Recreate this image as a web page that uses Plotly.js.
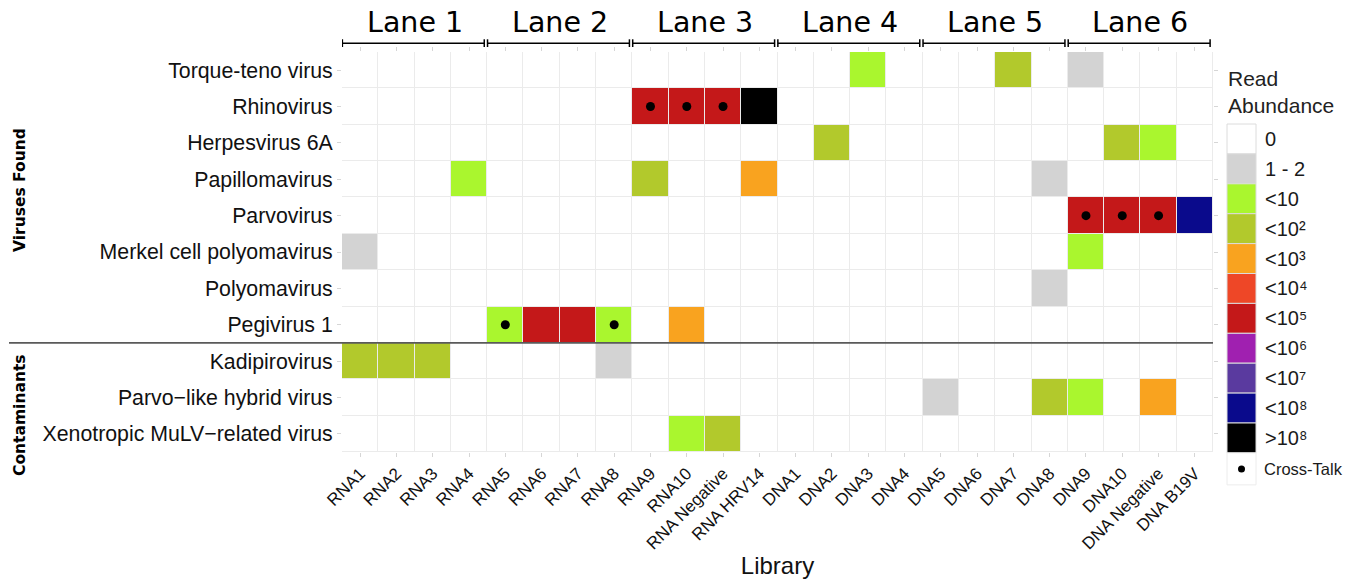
<!DOCTYPE html>
<html>
<head>
<meta charset="utf-8">
<script src="https://cdn.plot.ly/plotly-3.0.1.min.js"></script>
<style>html,body{margin:0;padding:0;background:#fff;}#chart{width:1363px;height:587px;}</style>
</head>
<body>
<div id="chart"></div>
<script>
// ---------- DATA ----------
const libraries = ['RNA1','RNA2','RNA3','RNA4','RNA5','RNA6','RNA7','RNA8','RNA9','RNA10','RNA Negative','RNA HRV14',
                   'DNA1','DNA2','DNA3','DNA4','DNA5','DNA6','DNA7','DNA8','DNA9','DNA10','DNA Negative','DNA B19V'];
const viruses = ['Torque-teno virus','Rhinovirus','Herpesvirus 6A','Papillomavirus','Parvovirus',
                 'Merkel cell polyomavirus','Polyomavirus','Pegivirus 1',
                 'Kadipirovirus','Parvo\u2212like hybrid virus','Xenotropic MuLV\u2212related virus'];
const lanes = ['Lane 1','Lane 2','Lane 3','Lane 4','Lane 5','Lane 6'];
const abundanceLabels = ['0','1 - 2','<10','<10\u00b2','<10\u00b3','<10\u2074','<10\u2075','<10\u2076','<10\u2077','<10\u2078','>10\u2078'];
const abundanceColors = ['#ffffff','#d3d3d3','#aaf62e','#b2c92c','#f9a31f','#ee4727','#c41819','#a020b0','#5a3a9f','#0a0a8c','#000000'];

// abundance category index per virus (rows) x library (columns)
const torqueTeno   = [0,0,0,0,0,0,0,0,0,0,0,0, 0,0,2,0,0,0,3,0,1,0,0,0];
const rhinovirus   = [0,0,0,0,0,0,0,0,6,6,6,10, 0,0,0,0,0,0,0,0,0,0,0,0];
const herpesvirus  = [0,0,0,0,0,0,0,0,0,0,0,0, 0,3,0,0,0,0,0,0,0,3,2,0];
const papilloma    = [0,0,0,2,0,0,0,0,3,0,0,4, 0,0,0,0,0,0,0,1,0,0,0,0];
const parvovirus   = [0,0,0,0,0,0,0,0,0,0,0,0, 0,0,0,0,0,0,0,0,6,6,6,9];
const merkel       = [1,0,0,0,0,0,0,0,0,0,0,0, 0,0,0,0,0,0,0,0,2,0,0,0];
const polyomavirus = [0,0,0,0,0,0,0,0,0,0,0,0, 0,0,0,0,0,0,0,1,0,0,0,0];
const pegivirus    = [0,0,0,0,2,6,6,2,0,4,0,0, 0,0,0,0,0,0,0,0,0,0,0,0];
const kadipiro     = [3,3,3,0,0,0,0,1,0,0,0,0, 0,0,0,0,0,0,0,0,0,0,0,0];
const parvoLike    = [0,0,0,0,0,0,0,0,0,0,0,0, 0,0,0,0,1,0,0,3,2,0,4,0];
const xenotropic   = [0,0,0,0,0,0,0,0,0,2,3,0, 0,0,0,0,0,0,0,0,0,0,0,0];

const crossTalkLib   = ['RNA9','RNA10','RNA Negative','DNA9','DNA10','DNA Negative','RNA5','RNA8'];
const crossTalkVirus = ['Rhinovirus','Rhinovirus','Rhinovirus','Parvovirus','Parvovirus','Parvovirus','Pegivirus 1','Pegivirus 1'];

const groupLabels = ['Viruses Found','Contaminants'];

// ---------- LAYOUT HELPERS ----------
const M = {l:342, r:150, t:52, b:135};
const W = 1363 - M.l - M.r, H = 587 - M.t - M.b;
const px = x => (x - M.l) / W;
const py = y => (M.t + H - y) / H;

const zMatrix = [torqueTeno, rhinovirus, herpesvirus, papilloma, parvovirus, merkel, polyomavirus, pegivirus, kadipiro, parvoLike, xenotropic];

const n = abundanceColors.length;
const colorscale = [];
abundanceColors.forEach((c, i) => { colorscale.push([i / n, c]); colorscale.push([(i + 1) / n, c]); });

const heat = {
  type: 'heatmap', x: libraries, y: viruses, z: zMatrix,
  zmin: -0.5, zmax: n - 0.5, colorscale: colorscale, showscale: false,
  xgap: 1, ygap: 1, hoverinfo: 'x+y+z'
};
const dots = {
  type: 'scatter', mode: 'markers', x: crossTalkLib, y: crossTalkVirus,
  marker: {color: '#000', size: 9}, showlegend: false, hoverinfo: 'skip'
};

const shapes = [];
const annotations = [];
const font = 'Liberation Sans, Arial, sans-serif';

// separator between groups
shapes.push({type: 'line', xref: 'paper', yref: 'y', x0: px(9), x1: 1, y0: 7.5, y1: 7.5, line: {color: '#5a5a5a', width: 1.6}});

// lane brackets
lanes.forEach((lab, k) => {
  const a = 4 * k - 0.49, b = 4 * k + 3.42;
  const yb = py(43.3), yt = py(39.3), yl = py(47);
  shapes.push({type: 'line', xref: 'x', yref: 'paper', x0: a, x1: b, y0: yb, y1: yb, line: {color: '#000', width: 1.5}});
  shapes.push({type: 'line', xref: 'x', yref: 'paper', x0: a, x1: a, y0: yt, y1: yl, line: {color: '#000', width: 1.5}});
  shapes.push({type: 'line', xref: 'x', yref: 'paper', x0: b, x1: b, y0: yt, y1: yl, line: {color: '#000', width: 1.5}});
  annotations.push({text: lab, xref: 'x', yref: 'paper', x: 4 * k + 1.5, y: py(22), xanchor: 'center', yanchor: 'middle',
    showarrow: false, font: {family: 'DejaVu Sans, sans-serif', size: 28.5, color: '#000'}});
});

// group labels
annotations.push({text: '<b>' + groupLabels[0] + '</b>', xref: 'paper', yref: 'paper', x: px(20), y: py(190), textangle: -90,
  xanchor: 'center', yanchor: 'middle', showarrow: false, font: {family: 'DejaVu Sans, sans-serif', size: 15.5, color: '#000'}});
annotations.push({text: '<b>' + groupLabels[1] + '</b>', xref: 'paper', yref: 'paper', x: px(20), y: py(415), textangle: -90,
  xanchor: 'center', yanchor: 'middle', showarrow: false, font: {family: 'DejaVu Sans, sans-serif', size: 15.5, color: '#000'}});

// legend (drawn manually)
const LX0 = 1227, LX1 = 1256, LTop = 124, LH = 29.9;
annotations.push({text: 'Read<br>Abundance', xref: 'paper', yref: 'paper', x: px(1226), y: py(65), xanchor: 'left', yanchor: 'top',
  align: 'left', showarrow: false, font: {family: font, size: 21, color: '#222'}});
abundanceColors.forEach((c, i) => {
  const y0 = LTop + i * LH, y1 = y0 + LH;
  shapes.push({type: 'rect', xref: 'paper', yref: 'paper', x0: px(LX0), x1: px(LX1), y0: py(y1), y1: py(y0),
    fillcolor: c, line: {color: '#dcdcdc', width: 1}});
  annotations.push({text: abundanceLabels[i], xref: 'paper', yref: 'paper', x: px(1263), y: py((y0 + y1) / 2),
    xanchor: 'left', yanchor: 'middle', showarrow: false, font: {family: font, size: 20, color: '#1a1a1a'}});
});
{
  const y0 = LTop + n * LH, y1 = y0 + 32;
  shapes.push({type: 'rect', xref: 'paper', yref: 'paper', x0: px(LX0), x1: px(LX1), y0: py(y1), y1: py(y0),
    fillcolor: '#ffffff', line: {color: '#ececec', width: 1}});
  shapes.push({type: 'circle', xref: 'paper', yref: 'paper', x0: px(1238), x1: px(1245), y0: py(y0 + 19.5), y1: py(y0 + 12.5),
    fillcolor: '#000', line: {color: '#000', width: 0}});
  annotations.push({text: 'Cross-Talk', xref: 'paper', yref: 'paper', x: px(1262), y: py(y0 + 16),
    xanchor: 'left', yanchor: 'middle', showarrow: false, font: {family: font, size: 16.5, color: '#1a1a1a'}});
}

const layout = {
  width: 1363, height: 587, margin: M,
  paper_bgcolor: '#ffffff', plot_bgcolor: '#ebebeb',
  showlegend: false,
  xaxis: {
    type: 'category', categoryorder: 'array', categoryarray: libraries,
    tickangle: -45, tickfont: {family: font, size: 17, color: '#111'},
    ticks: 'outside', ticklen: 4, tickcolor: '#d6d6d6', mirror: 'ticks', showgrid: false, zeroline: false,
    title: {text: 'Library', font: {family: font, size: 24, color: '#111'}, standoff: 4},
    range: [-0.5, libraries.length - 0.5], fixedrange: true
  },
  yaxis: {
    type: 'category', categoryorder: 'array', categoryarray: viruses, autorange: 'reversed',
    tickfont: {family: font, size: 21.3, color: '#111'},
    ticks: 'outside', ticklen: 4, tickcolor: '#d6d6d6', mirror: 'ticks', showgrid: false, zeroline: false,
    fixedrange: true
  },
  shapes: shapes,
  annotations: annotations
};

Plotly.newPlot('chart', [heat, dots], layout, {displayModeBar: false, staticPlot: true});
</script>
</body>
</html>
